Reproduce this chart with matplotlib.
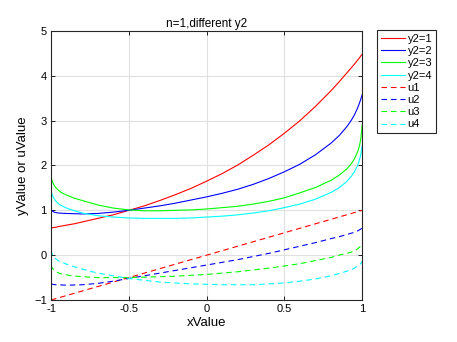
import numpy as np
import matplotlib.pyplot as plt

plt.rcParams['font.family'] = ['Liberation Sans', 'DejaVu Sans']

x = [-1, -0.995, -0.99, -0.98, -0.97, -0.95, -0.93, -0.9, -0.85,
     -0.8, -0.7, -0.6, -0.5, -0.4, -0.3, -0.2, -0.1, 0, 0.1, 0.2, 0.3, 0.4, 0.5, 0.6, 0.7, 0.8,
     0.85, 0.9, 0.93, 0.95, 0.97, 0.98, 0.99, 1]

# y values (solid)
y1 = [0.61, 0.61, 0.61, 0.62, 0.62, 0.64, 0.65, 0.67, 0.70,
      0.74, 0.82, 0.90, 1.00, 1.10, 1.22, 1.35, 1.49, 1.65, 1.82, 2.01, 2.23, 2.46, 2.72, 3.00, 3.32, 3.67,
      3.86, 4.06, 4.18, 4.26, 4.35, 4.39, 4.44, 4.48]
y2 = [1.03, 1.00, 0.98, 0.96, 0.95, 0.94, 0.935, 0.93, 0.925,
      0.92, 0.93, 0.96, 1.00, 1.05, 1.10, 1.16, 1.23, 1.30, 1.38, 1.47, 1.58, 1.71, 1.86, 2.03, 2.24, 2.50,
      2.66, 2.86, 3.01, 3.13, 3.28, 3.37, 3.47, 3.58]
y3 = [1.76, 1.68, 1.63, 1.56, 1.51, 1.44, 1.39, 1.34, 1.27,
      1.22, 1.12, 1.05, 1.01, 0.99, 0.99, 1.00, 1.01, 1.03, 1.06, 1.09, 1.14, 1.20, 1.28, 1.39, 1.51, 1.67,
      1.78, 1.92, 2.04, 2.15, 2.30, 2.41, 2.57, 2.90]
y4 = [1.45, 1.38, 1.33, 1.26, 1.21, 1.14, 1.10, 1.05, 0.99,
      0.94, 0.88, 0.85, 0.83, 0.82, 0.82, 0.82, 0.83, 0.85, 0.87, 0.90, 0.94, 0.99, 1.06, 1.14, 1.25, 1.40,
      1.50, 1.64, 1.76, 1.86, 2.00, 2.10, 2.23, 2.45]

# u values (dashed)
u1 = list(x)
u2 = [-0.64, -0.645, -0.65, -0.655, -0.66, -0.66, -0.665, -0.67, -0.665,
      -0.66, -0.63, -0.58, -0.52, -0.46, -0.40, -0.34, -0.28, -0.22, -0.16, -0.10, -0.03, 0.04, 0.12, 0.20, 0.28, 0.37,
      0.41, 0.46, 0.49, 0.51, 0.54, 0.56, 0.58, 0.61]
u3 = [-0.22, -0.27, -0.30, -0.33, -0.36, -0.40, -0.42, -0.44, -0.465,
      -0.48, -0.50, -0.50, -0.50, -0.49, -0.48, -0.47, -0.45, -0.43, -0.40, -0.37, -0.33, -0.29, -0.24, -0.19, -0.12, -0.05,
      0.00, 0.04, 0.07, 0.10, 0.14, 0.17, 0.20, 0.26]
u4 = [0.12, 0.05, 0.00, -0.04, -0.08, -0.13, -0.16, -0.20, -0.26,
      -0.31, -0.40, -0.46, -0.52, -0.56, -0.60, -0.62, -0.64, -0.65, -0.66, -0.66, -0.66, -0.64, -0.62, -0.58, -0.53, -0.46,
      -0.41, -0.36, -0.32, -0.29, -0.24, -0.22, -0.19, -0.14]

colors = ['#ff0000', '#0000ff', '#00ff00', '#00ffff']
y_series = [y1, y2, y3, y4]
u_series = [u1, u2, u3, u4]
y_labels = ['y2=1', 'y2=2', 'y2=3', 'y2=4']
u_labels = ['u1', 'u2', 'u3', 'u4']

fig = plt.figure(figsize=(4.57, 3.42), dpi=100)
ax = fig.add_axes([0.1116, 0.1228, 0.681, 0.7866])

for ys, c, lab in zip(y_series, colors, y_labels):
    ax.plot(x, ys, color=c, lw=0.8, label=lab)
for us, c, lab in zip(u_series, colors, u_labels):
    ax.plot(x, us, color=c, lw=0.8, ls=(0, (5, 3.5)), label=lab)

ax.set_xlim(-1, 1)
ax.set_ylim(-1, 5)
ax.set_xticks([-1, -0.5, 0, 0.5, 1])
ax.set_xticklabels(['-1', '-0.5', '0', '0.5', '1'])
ax.set_yticks(range(-1, 6))
ax.grid(True, color='#e0e0e0', lw=0.8)
ax.set_axisbelow(True)
ax.tick_params(direction='in', top=True, right=True, labelsize=8, length=3,
               width=0.6, pad=3)
for sp in ax.spines.values():
    sp.set_linewidth(0.8)
    sp.set_color('#262626')

ax.set_title('n=1,different y2', fontsize=8.5, pad=3)
ax.set_xlabel('xValue', fontsize=9.5, labelpad=2)
ax.set_ylabel('yValue or uValue', fontsize=9.5, labelpad=4)

leg = ax.legend(loc='upper left', bbox_to_anchor=(377 / 457, 1 - 30 / 342),
                bbox_transform=fig.transFigure, fontsize=8, handlelength=2.2,
                handletextpad=0.2, labelspacing=0.2, borderpad=0.35,
                fancybox=False, framealpha=1, edgecolor='#262626',
                borderaxespad=0)
leg.get_frame().set_linewidth(0.8)

fig.savefig('out.png', dpi=100)
